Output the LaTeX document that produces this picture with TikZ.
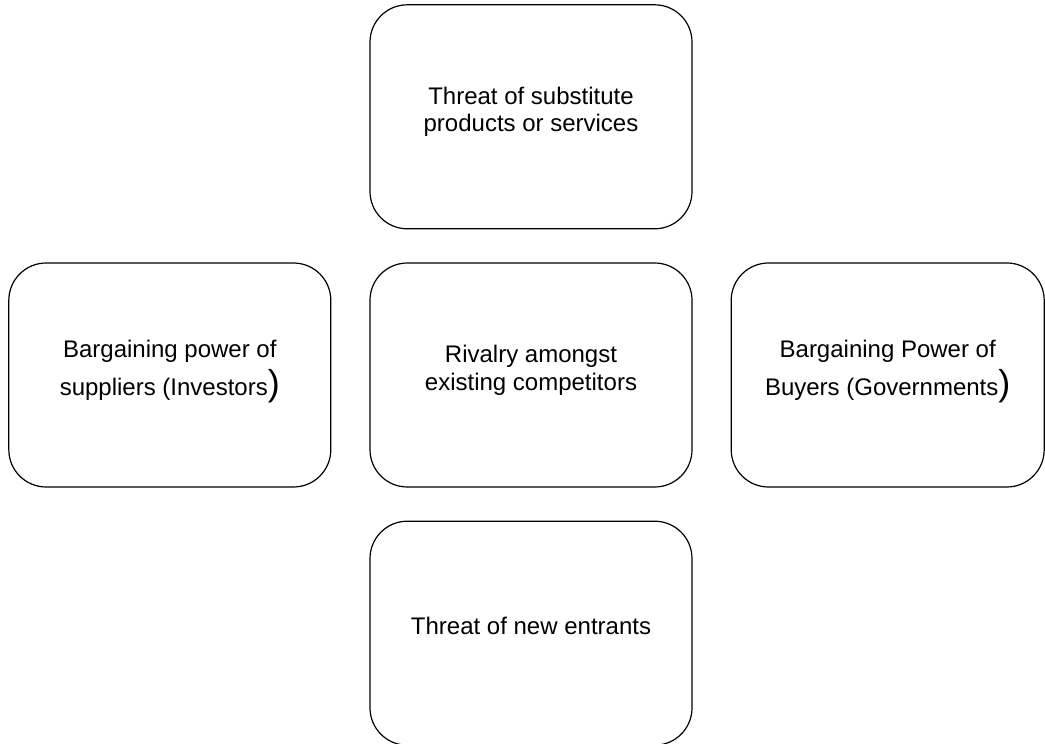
\documentclass[tikz,border=0pt]{standalone}
\usepackage{fontspec}
\setmainfont{Liberation Sans}
\usetikzlibrary{positioning}

\newcommand{\largeparen}{{\fontsize{27}{30}\selectfont)}}

\begin{document}
\begin{tikzpicture}[x=0.75pt, y=0.75pt,
    forcebox/.style={draw, line width=0.9pt, rounded corners=28pt,
        minimum width=241.5pt, minimum height=168pt, align=center,
        font=\fontsize{18}{20.7}\selectfont,
        execute at end node={\rule[-11pt]{0pt}{0pt}}}]
    \useasboundingbox (0,0) rectangle (1045,743);
    % Middle row
    \node[forcebox] (rivalry) at (531,368) {Rivalry amongst\\existing competitors};
    \node[forcebox, left=28.5pt of rivalry] (suppliers) {Bargaining power of\\[4pt]suppliers (Investors\largeparen};
    \node[forcebox, right=28.5pt of rivalry, minimum width=234.75pt] (buyers) {Bargaining Power of\\[4pt]Buyers (Governments\largeparen};
    % Top and bottom
    \node[forcebox, above=24.75pt of rivalry] (substitutes) {Threat of substitute\\products or services};
    \node[forcebox, below=24.75pt of rivalry] (entrants) {Threat of new entrants};
\end{tikzpicture}
\end{document}
